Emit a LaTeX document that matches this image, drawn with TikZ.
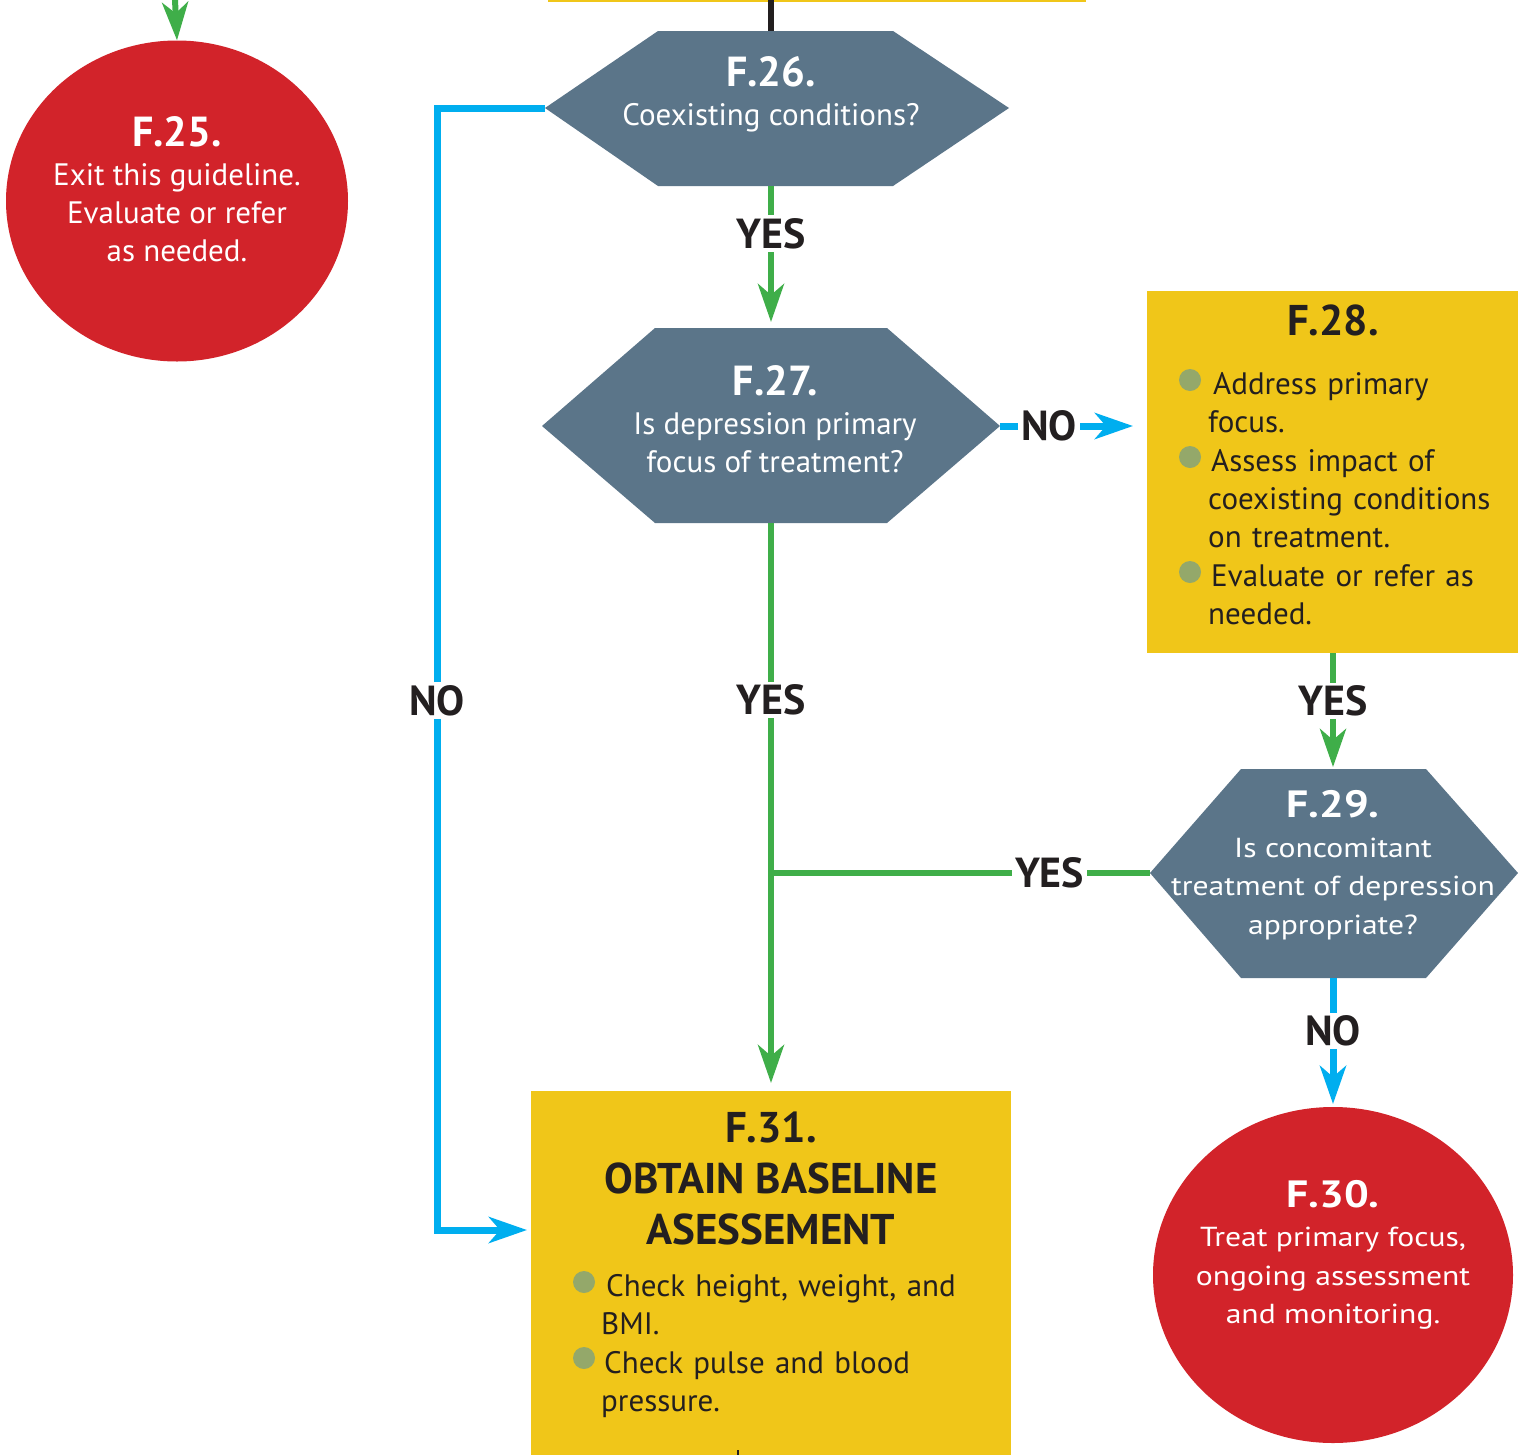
\documentclass[tikz,border=0pt]{standalone}
\usepackage{fontspec}
\setmainfont{PT Sans}
\newfontfamily\widefont[FakeStretch=1.15]{PT Sans}
\usetikzlibrary{arrows.meta,shapes.geometric}
\definecolor{fred}{HTML}{D2232A}
\definecolor{fslate}{HTML}{5B7589}
\definecolor{fyellow}{HTML}{F0C619}
\definecolor{fgreen}{HTML}{3FAE49}
\definecolor{fblue}{HTML}{00AEEF}
\definecolor{fbullet}{HTML}{94A86A}
\definecolor{fdark}{HTML}{231F20}
\begin{document}
\begin{tikzpicture}[x=1pt,y=-1pt,
  gline/.style={draw=fgreen,line width=6pt},
  bline/.style={draw=fblue,line width=7pt},
  tipped/.style={-{Stealth[length=38pt,width=26pt,inset=11pt]}},
  hexa/.style={fill=fslate},
  endcirc/.style={fill=fred,ellipse,inner sep=0pt},
  ybox/.style={fill=fyellow,inner sep=0pt,anchor=north west},
  whitetext/.style={text=white,align=center,inner sep=0pt,font=\fontsize{31}{38}\selectfont},
  widetext/.style={text=white,align=center,inner sep=0pt,font=\widefont\fontsize{27.5}{38.5}\selectfont},
  darktitle/.style={text=fdark,align=center,inner sep=0pt,font=\bfseries\fontsize{43}{51}\selectfont},
  itemtext/.style={text=fdark,align=left,inner sep=0pt,anchor=base west,text width=420pt,font=\fontsize{31}{38.3}\selectfont},
  bulletdot/.style={fill=fbullet,circle,inner sep=0pt,minimum size=22pt},
  lbl/.style={fill=white,text=fdark,inner sep=3pt,font=\bfseries\fontsize{42}{42}\selectfont},
  ttl/.style={font=\bfseries\fontsize{42}{42}\selectfont}
]
\useasboundingbox (0,0) rectangle (1518,1454);
\clip (0,0) rectangle (1518,1454);
\fill[white] (0,0) rectangle (1518,1454);

% previous box (top) and incoming lines
\fill[fyellow] (548,-30) rectangle (1086,2);
\coordinate (prevbot) at (771,0);
\coordinate (prevleft) at (174,-20);

% F.25
\node[endcirc,minimum width=342pt,minimum height=321pt] (f25) at (177,201) {};
\node[whitetext] (f25t) at (177,189) {{\bfseries\fontsize{42}{40}\selectfont F.25.}\\[1pt]Exit this guideline.\\Evaluate or refer\\as needed.};

% F.26 hexagon
\fill[hexa] (545,108) -- (658,31) -- (893,31) -- (1009,108) -- (893,186) -- (658,186) -- cycle;
\coordinate (f26w) at (545,108);
\coordinate (f26n) at (771,31);
\coordinate (f26s) at (771,186);
\node[whitetext] (f26t) at (771,94) {{\bfseries\fontsize{42}{40}\selectfont F.26.}\\[1pt]Coexisting conditions?};

% F.27 hexagon
\fill[hexa] (542,426) -- (655,328) -- (887,328) -- (1000,426) -- (887,523) -- (655,523) -- cycle;
\coordinate (f27n) at (771,322);
\coordinate (f27e) at (1000,426);
\coordinate (f27s) at (771,523);
\node[whitetext] (f27t) at (775,419) {{\bfseries\fontsize{42}{40}\selectfont F.27.}\\[1pt]Is depression primary\\focus of treatment?};

% F.28 box
\node[ybox,minimum width=372pt,minimum height=362pt] (f28) at (1147,291) {};
\coordinate (f28w) at (1133,426);
\node[darktitle] (f28t) at (1333,320) {F.28.};
\node[bulletdot] (f28b1) at (1190,380) {};
\node[bulletdot] (f28b2) at (1190,457) {};
\node[bulletdot] (f28b3) at (1190,572) {};
\node[itemtext] (f28i1) at (1208,394) {\hspace*{5pt}Address primary\\focus.};
\node[itemtext] (f28i2) at (1208,471) {\hspace*{3pt}Assess impact of\\coexisting conditions\\on treatment.};
\node[itemtext] (f28i3) at (1208,586) {\hspace*{3pt}Evaluate or refer as\\needed.};

% F.29 hexagon
\fill[hexa] (1150,873) -- (1241,769) -- (1426,769) -- (1518,873) -- (1426,978) -- (1241,978) -- cycle;
\coordinate (f29n) at (1333,767);
\coordinate (f29w) at (1150,873);
\coordinate (f29s) at (1333,978);
\node[widetext] (f29t) at (1333,865) {{\bfseries\fontsize{38}{38}\selectfont F.29.}\\[1pt]Is concomitant\\treatment of depression\\appropriate?};

% F.30
\node[endcirc,minimum width=360pt,minimum height=336pt] (f30) at (1333,1275) {};
\coordinate (f30n) at (1333,1104);
\node[widetext] (f30t) at (1333,1255) {{\bfseries\fontsize{38}{38}\selectfont F.30.}\\[1pt]Treat primary focus,\\ongoing assessment\\and monitoring.};

% F.31 box
\node[ybox,minimum width=480pt,minimum height=400pt] (f31) at (531,1091) {};
\coordinate (f31n) at (771,1083);
\coordinate (f31w) at (527,1230);
\node[darktitle] (f31t) at (771,1178) {F.31.\\OBTAIN BASELINE\\ASESSEMENT};
\node[bulletdot] (f31b1) at (584,1282) {};
\node[bulletdot] (f31b2) at (584,1358) {};
\node[itemtext] (f31i1) at (601,1296) {\hspace*{5pt}Check height, weight, and\\BMI.};
\node[itemtext] (f31i2) at (601,1373) {\hspace*{3pt}Check pulse and blood\\pressure.};
\coordinate (f31bot) at (738,1450);
\coordinate (nextline) at (738,1470);

% connectors
\draw[fdark,line width=6pt] (prevbot) -- (f26n);
\draw[gline,tipped] (prevleft) -- (f25.north);
\draw[fdark,line width=2pt] (f31bot) -- (nextline);

\draw[gline,tipped] (f26s) -- node[lbl,pos=0.35] (l1) {YES} (f27n);
\draw[bline,tipped] (f26w) -- (437,108) -- node[lbl,pos=0.528] (l2) {NO} (437,1230) -- (f31w);
\draw[bline,tipped] (f27e) -- node[lbl,pos=0.37] (l3) {NO} (f28w);
\draw[gline,tipped] (f27s) -- node[lbl,pos=0.316] (l4) {YES} (f31n);
\draw[gline,tipped] (f28.south -| f29n) -- node[lbl,pos=0.42] (l5) {YES} (f29n);
\draw[gline] (f29w) -- node[lbl,pos=0.265] (l6) {YES} (f29w -| f31n) -- ++(-3,0);
\draw[bline,tipped] (f29s) -- node[lbl,pos=0.42] (l7) {NO} (f30n);
\end{tikzpicture}
\end{document}
